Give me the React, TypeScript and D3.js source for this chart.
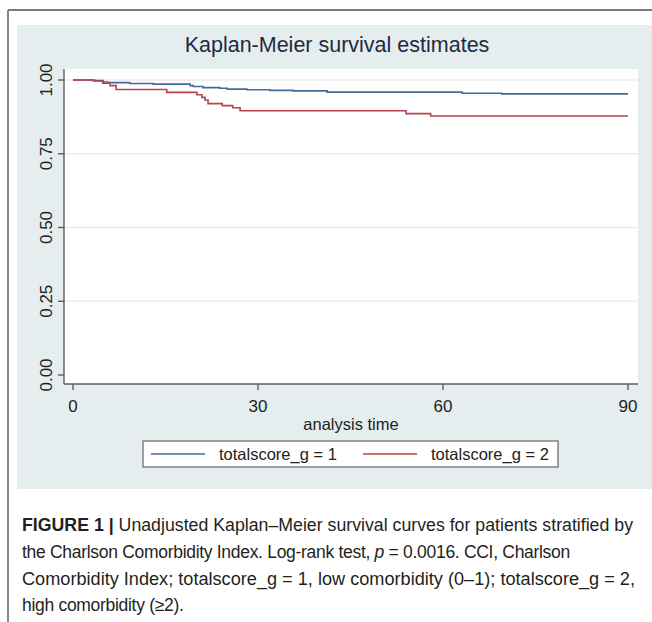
import React from "react";
import * as d3 from "d3";

// ---- data ----
const blueTimes = [0, 3.2, 4.9, 5.7, 9.2, 13, 19, 19.5, 21.1, 23.8, 25, 28.2, 31.9, 35.7, 41.2, 63.1, 69.5];
const blueSurv = [1, 0.998, 0.993, 0.991, 0.988, 0.986, 0.981, 0.978, 0.974, 0.972, 0.969, 0.967, 0.965, 0.963, 0.959, 0.955, 0.953];
const redTimes = [0, 3.5, 4.8, 6, 7, 15.2, 20.1, 20.9, 21.4, 21.9, 24.2, 25.9, 27.1, 54, 58];
const redSurv = [1, 0.9966, 0.989, 0.981, 0.968, 0.958, 0.95, 0.941, 0.932, 0.92, 0.913, 0.906, 0.896, 0.886, 0.878];
const endTime = 90;
const xTicks = [0, 30, 60, 90];
const yTicks = [0, 0.25, 0.5, 0.75, 1];
const seriesLabels = ["totalscore_g = 1", "totalscore_g = 2"];
const seriesColors = ["#44699a", "#b8434b"];
const titleText = "Kaplan-Meier survival estimates";
const xAxisTitle = "analysis time";

const FONT = "'Liberation Sans', Arial, sans-serif";

export default function App() {
  const x = d3.scaleLinear().domain([0, 90]).range([73, 628]);
  const y = d3.scaleLinear().domain([0, 1]).range([375, 80]);
  const line = d3
    .line<[number, number]>()
    .x((d) => x(d[0]))
    .y((d) => y(d[1]))
    .curve(d3.curveStepAfter);
  const pts = (t: number[], s: number[]): [number, number][] => [
    ...t.map((ti, i) => [ti, s[i]] as [number, number]),
    [endTime, s[s.length - 1]],
  ];
  const series = [pts(blueTimes, blueSurv), pts(redTimes, redSurv)];

  const plotL = 64, plotR = 638, plotT = 69, plotB = 384;
  const axisColor = "#5e5e5e";
  const textColor = "#222";

  const legendX = 143, legendY = 441, legendW = 415, legendH = 26;
  const legendItems = [
    { lx: 151, tx: 219 },
    { lx: 363, tx: 431 },
  ];

  return (
    <svg
      width={652}
      height={622}
      style={{ position: "absolute", left: 0, top: 0, background: "#fff" }}
      fontFamily={FONT}
    >
      {/* outer frame */}
      <line x1={8} y1={10} x2={652} y2={10} stroke="#7a7a7a" strokeWidth={1.8} />
      <line x1={8} y1={10} x2={8} y2={622} stroke="#7a7a7a" strokeWidth={1.8} />

      {/* stata graph region */}
      <rect x={17} y={25} width={652 - 17} height={489 - 25} fill="#e5edef" />
      {/* plot region */}
      <rect x={plotL} y={plotT} width={plotR - plotL} height={plotB - plotT} fill="#fff" />

      {/* title */}
      <text x={337} y={52} textAnchor="middle" fontSize={21.5} fill="#1e2b40">
        {titleText}
      </text>

      {/* grid */}
      {yTicks.filter((v) => v > 0).map((v) => (
        <line key={v} x1={plotL} x2={plotR} y1={y(v)} y2={y(v)} stroke="#ebebeb" strokeWidth={1.5} />
      ))}

      {/* curves */}
      {series.map((s, i) => (
        <path key={i} d={line(s) || ""} fill="none" stroke={seriesColors[i]} strokeWidth={1.6} />
      ))}

      {/* axes */}
      <line x1={plotL} x2={plotL} y1={plotT} y2={plotB} stroke={axisColor} strokeWidth={1.4} />
      <line x1={plotL} x2={plotR} y1={plotB} y2={plotB} stroke={axisColor} strokeWidth={1.4} />
      {yTicks.map((v) => (
        <g key={v}>
          <line x1={plotL - 6} x2={plotL} y1={y(v)} y2={y(v)} stroke={axisColor} strokeWidth={1.4} />
          <text
            transform={`translate(52,${y(v)}) rotate(-90)`}
            textAnchor="middle"
            fontSize={17}
            fill={textColor}
          >
            {v.toFixed(2)}
          </text>
        </g>
      ))}
      {xTicks.map((v) => (
        <g key={v}>
          <line x1={x(v)} x2={x(v)} y1={plotB} y2={plotB + 6} stroke={axisColor} strokeWidth={1.4} />
          <text x={x(v)} y={412} textAnchor="middle" fontSize={17} fill={textColor}>
            {v}
          </text>
        </g>
      ))}
      <text x={351} y={430} textAnchor="middle" fontSize={16.5} fill={textColor}>
        {xAxisTitle}
      </text>

      {/* legend */}
      <rect x={legendX} y={legendY} width={legendW} height={legendH} fill="#fff" stroke="#666" strokeWidth={1.2} />
      {legendItems.map((it, i) => (
        <g key={i}>
          <line
            x1={it.lx}
            x2={it.lx + 54}
            y1={legendY + legendH / 2}
            y2={legendY + legendH / 2}
            stroke={seriesColors[i]}
            strokeWidth={1.6}
          />
          <text x={it.tx} y={legendY + 19} fontSize={16.5} fill={textColor}>
            {seriesLabels[i]}
          </text>
        </g>
      ))}

      {/* caption */}
      <g fontSize={17.5} fill="#231f20">
        <text x={22} y={531} textLength={611} lengthAdjust="spacingAndGlyphs">
          <tspan fontWeight="bold">FIGURE 1 | </tspan>
          Unadjusted Kaplan–Meier survival curves for patients stratified by
        </text>
        <text x={22} y={558} letterSpacing={-0.3}>
          {"the Charlson Comorbidity Index. Log-rank test, "}
          <tspan fontStyle="italic">p</tspan>
          {" = 0.0016. CCI, Charlson"}
        </text>
        <text x={22} y={585} textLength={613} lengthAdjust="spacingAndGlyphs">
          Comorbidity Index; totalscore_g = 1, low comorbidity (0–1); totalscore_g = 2,
        </text>
        <text x={22} y={611} letterSpacing={-0.3}>
          high comorbidity (≥2).
        </text>
      </g>
    </svg>
  );
}
